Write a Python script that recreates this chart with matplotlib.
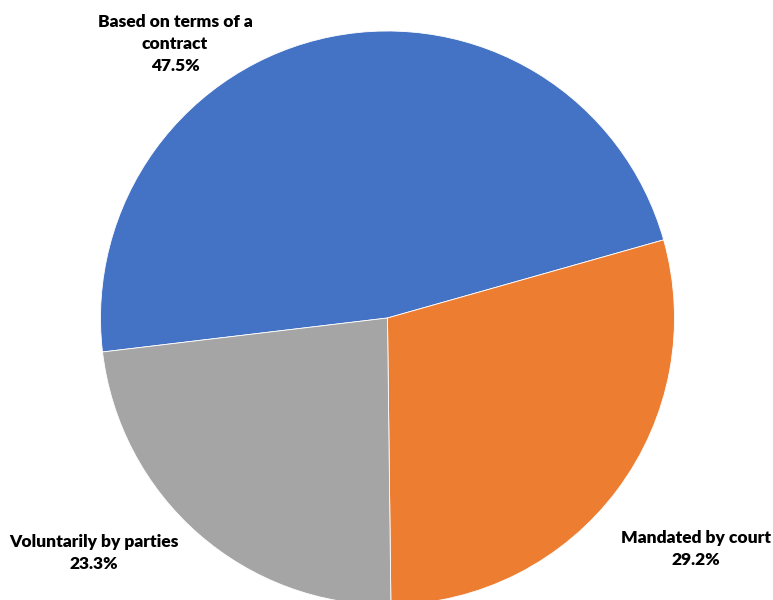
import matplotlib.pyplot as plt

labels = ["Based on terms of a\ncontract", "Mandated by court", "Voluntarily by parties"]
shares = [47.5, 29.2, 23.3]
colors = ["#4472C4", "#ED7D31", "#A5A5A5"]

fig = plt.figure(figsize=(7.73, 6), dpi=100)
ax = fig.add_axes([0, 0, 1, 1])

ax.pie(shares, colors=colors, startangle=186.8, counterclock=False,
       center=(387.5, 282), radius=287,
       wedgeprops=dict(edgecolor="white", linewidth=0.6))

# pie() resets the limits, so set them afterwards
ax.set_xlim(0, 773)
ax.set_ylim(0, 600)
ax.set_aspect("equal")
ax.axis("off")

# label spots (pixel coords from top-left)
spots = [(175, 44), (696, 549), (94, 553)]
for lab, val, (x, y) in zip(labels, shares, spots):
    ax.text(x, 600 - y, f"{lab}\n{val:.1f}%", ha="center", va="center",
            fontsize=12.5, fontweight="heavy", family="Lato",
            linespacing=1.45, color="#000000")

fig.savefig("out.png", dpi=100)
